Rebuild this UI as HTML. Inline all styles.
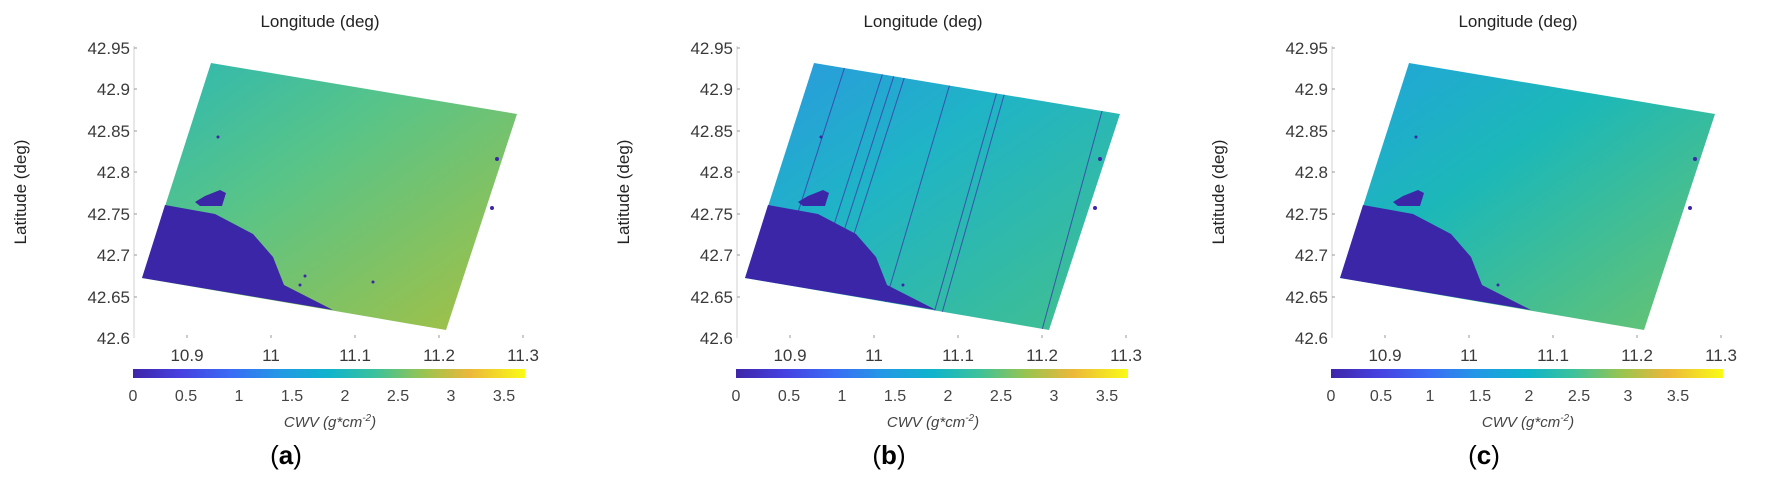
<!DOCTYPE html>
<html><head><meta charset="utf-8"><style>
html,body{margin:0;padding:0;background:#fff;}
svg{display:block;}
text{font-family:"Liberation Sans",sans-serif;}
</style></head><body>
<svg width="1765" height="486" viewBox="0 0 1765 486" xmlns="http://www.w3.org/2000/svg">
<defs>
<linearGradient id="parA" x1="0" y1="0" x2="1" y2="0">
<stop offset="0" stop-color="#3e26a8"/><stop offset="0.12" stop-color="#4640e0"/><stop offset="0.25" stop-color="#3a6cf5"/><stop offset="0.37" stop-color="#2497e6"/><stop offset="0.5" stop-color="#0fb4cc"/><stop offset="0.62" stop-color="#3cc29a"/><stop offset="0.74" stop-color="#98c450"/><stop offset="0.86" stop-color="#ecb83a"/><stop offset="1" stop-color="#f9fb15"/>
</linearGradient>
<linearGradient id="landA" x1="0" y1="0" x2="1" y2="1">
<stop offset="0" stop-color="#2cb8b4"/><stop offset="0.4" stop-color="#58c488"/><stop offset="1" stop-color="#a8c040"/>
</linearGradient>
<linearGradient id="landB" x1="0" y1="0" x2="1" y2="1">
<stop offset="0" stop-color="#2b98e0"/><stop offset="0.4" stop-color="#1fb4c6"/><stop offset="1" stop-color="#44c08c"/>
</linearGradient>
<linearGradient id="landC" x1="0" y1="0" x2="1" y2="1">
<stop offset="0" stop-color="#22a4dc"/><stop offset="0.4" stop-color="#1cb8b8"/><stop offset="1" stop-color="#6cc46c"/>
</linearGradient>
<clipPath id="poly"><polygon points="211,63 517,114 446,330 142,278"/></clipPath>
<g id="axes">
  <line x1="134" y1="46" x2="134" y2="338" stroke="#d0d0d0" stroke-width="1"/>
  <g stroke="#999" stroke-width="1">
    <line x1="134" y1="48" x2="137" y2="48"/><line x1="134" y1="89" x2="137" y2="89"/><line x1="134" y1="131" x2="137" y2="131"/><line x1="134" y1="172" x2="137" y2="172"/><line x1="134" y1="214" x2="137" y2="214"/><line x1="134" y1="255" x2="137" y2="255"/><line x1="134" y1="297" x2="137" y2="297"/>
    <line x1="187" y1="335" x2="187" y2="338"/><line x1="271" y1="335" x2="271" y2="338"/><line x1="355" y1="335" x2="355" y2="338"/><line x1="439" y1="335" x2="439" y2="338"/><line x1="523" y1="335" x2="523" y2="338"/>
  </g>
  <g font-size="17" fill="#3a3a3a" text-anchor="end">
    <text x="130" y="54">42.95</text><text x="130" y="95">42.9</text><text x="130" y="137">42.85</text><text x="130" y="178">42.8</text><text x="130" y="220">42.75</text><text x="130" y="261">42.7</text><text x="130" y="303">42.65</text><text x="130" y="344">42.6</text>
  </g>
  <g font-size="17" fill="#3a3a3a" text-anchor="middle">
    <text x="187" y="361">10.9</text><text x="271" y="361">11</text><text x="355" y="361">11.1</text><text x="439" y="361">11.2</text><text x="523" y="361">11.3</text>
  </g>
  <text x="320" y="27" font-size="17" fill="#222" text-anchor="middle">Longitude (deg)</text>
  <text transform="translate(26,192) rotate(-90)" font-size="17" fill="#222" text-anchor="middle">Latitude (deg)</text>
  <text x="330" y="427" font-size="15" font-style="italic" fill="#444" text-anchor="middle">CWV (g*cm<tspan dy="-6" font-size="10">-2</tspan><tspan dy="6">)</tspan></text>
</g>
</defs>

<!-- Panel A -->
<g>
  <use href="#axes"/>
  <polygon points="211,63 517,114 446,330 142,278" fill="url(#landA)"/>
  <polygon points="165,205 215,214 253,234 273,257 284,285 333,310 142,278" fill="#3c26a8"/>
  <polygon points="195,202 205,196 220,190 226,193 222,206 200,206" fill="#3c26a8"/>
  <g fill="#3c26a8"><circle cx="492" cy="208" r="2"/><circle cx="497" cy="159" r="2"/><circle cx="218" cy="137" r="1.5"/><circle cx="300" cy="285" r="1.5"/><circle cx="305" cy="276" r="1.5"/><circle cx="373" cy="282" r="1.5"/></g>
  <rect x="133" y="369" width="392" height="9" fill="url(#parA)"/>
  <g font-size="16" fill="#444" text-anchor="middle">
    <text x="133" y="401">0</text><text x="186" y="401">0.5</text><text x="239" y="401">1</text><text x="292" y="401">1.5</text><text x="345" y="401">2</text><text x="398" y="401">2.5</text><text x="451" y="401">3</text><text x="504" y="401">3.5</text>
  </g>
  <text x="286" y="464" font-size="26" font-family="Liberation Serif,serif" fill="#000" text-anchor="middle">(<tspan font-weight="bold">a</tspan>)</text>
</g>

<!-- Panel B -->
<g transform="translate(603,0)">
  <use href="#axes"/>
  <polygon points="211,63 517,114 446,330 142,278" fill="url(#landB)"/>
  <g clip-path="url(#poly)" stroke="#3c3aa8" stroke-width="1" opacity="0.8">
    <line x1="244" y1="60" x2="170" y2="290"/><line x1="284" y1="60" x2="210" y2="290"/><line x1="296" y1="60" x2="222" y2="290"/><line x1="307" y1="60" x2="233" y2="290"/><line x1="354" y1="60" x2="280" y2="310"/><line x1="403" y1="60" x2="329" y2="320"/><line x1="411" y1="60" x2="337" y2="320"/><line x1="513" y1="60" x2="439" y2="330"/>
  </g>
  <polygon points="165,205 215,214 253,234 273,257 284,285 333,310 142,278" fill="#3c26a8"/>
  <polygon points="195,202 205,196 220,190 226,193 222,206 200,206" fill="#3c26a8"/>
  <g fill="#3c26a8"><circle cx="492" cy="208" r="2"/><circle cx="497" cy="159" r="2"/><circle cx="218" cy="137" r="1.5"/><circle cx="300" cy="285" r="1.5"/></g>
  <rect x="133" y="369" width="392" height="9" fill="url(#parA)"/>
  <g font-size="16" fill="#444" text-anchor="middle">
    <text x="133" y="401">0</text><text x="186" y="401">0.5</text><text x="239" y="401">1</text><text x="292" y="401">1.5</text><text x="345" y="401">2</text><text x="398" y="401">2.5</text><text x="451" y="401">3</text><text x="504" y="401">3.5</text>
  </g>
  <text x="286" y="464" font-size="26" font-family="Liberation Serif,serif" fill="#000" text-anchor="middle">(<tspan font-weight="bold">b</tspan>)</text>
</g>

<!-- Panel C -->
<g transform="translate(1198,0)">
  <use href="#axes"/>
  <polygon points="211,63 517,114 446,330 142,278" fill="url(#landC)"/>
  <polygon points="165,205 215,214 253,234 273,257 284,285 333,310 142,278" fill="#3c26a8"/>
  <polygon points="195,202 205,196 220,190 226,193 222,206 200,206" fill="#3c26a8"/>
  <g fill="#3c26a8"><circle cx="492" cy="208" r="2"/><circle cx="497" cy="159" r="2"/><circle cx="218" cy="137" r="1.5"/><circle cx="300" cy="285" r="1.5"/></g>
  <rect x="133" y="369" width="392" height="9" fill="url(#parA)"/>
  <g font-size="16" fill="#444" text-anchor="middle">
    <text x="133" y="401">0</text><text x="183" y="401">0.5</text><text x="232" y="401">1</text><text x="282" y="401">1.5</text><text x="331" y="401">2</text><text x="381" y="401">2.5</text><text x="430" y="401">3</text><text x="480" y="401">3.5</text>
  </g>
  <text x="286" y="464" font-size="26" font-family="Liberation Serif,serif" fill="#000" text-anchor="middle">(<tspan font-weight="bold">c</tspan>)</text>
</g>
</svg>
</body></html>
